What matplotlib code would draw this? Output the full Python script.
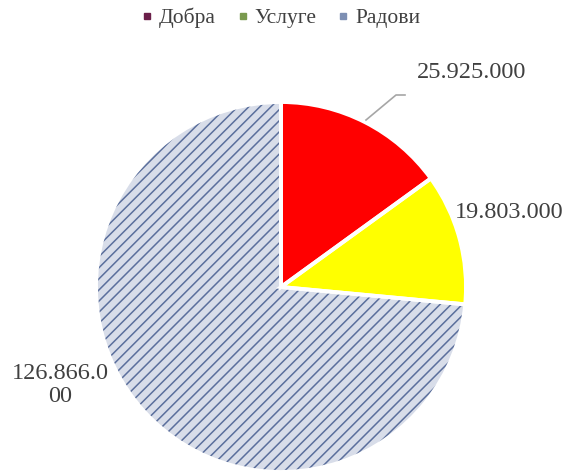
import matplotlib.pyplot as plt
from matplotlib.lines import Line2D
from matplotlib.patches import Wedge

# data
categories = ['Добра', 'Услуге', 'Радови']
values = [25925000, 19803000, 126866000]
value_labels = ['25.925.000', '19.803.000', '126.866.0\n00']
legend_colors = ['#6b1f4a', '#7a9a4f', '#7d8fb3']
slice_colors = ['#ff0000', '#ffff00', '#d8dde9']

plt.rcParams['font.family'] = ['Liberation Serif', 'DejaVu Serif']
plt.rcParams['hatch.linewidth'] = 1.1

fig = plt.figure(figsize=(5.69, 4.74), dpi=100)
ax = fig.add_axes([0, 0, 1, 1])

cx, cy, r = 281, 187, 185
wedges, _ = ax.pie(values, colors=slice_colors, startangle=90, counterclock=False,
                   center=(cx, cy), radius=r, frame=True,
                   wedgeprops=dict(linewidth=0))
ax.set_xlim(0, 569)
ax.set_ylim(0, 474)
ax.set_aspect('equal')
ax.axis('off')

# hatch on the big slice
w = wedges[2]
ax.add_patch(Wedge(w.center, w.r, w.theta1, w.theta2, facecolor='none',
                   edgecolor='#5b6f9c', hatch='///', linewidth=0))

# white borders between slices
for w in wedges:
    ax.add_patch(Wedge(w.center, w.r, w.theta1, w.theta2, facecolor='none',
                       edgecolor='white', linewidth=2.8))

# data labels
ax.plot([366, 396, 405], [474 - 120, 474 - 95, 474 - 95], color='#a6a6a6', lw=1.2)
ax.text(472, 474 - 72, value_labels[0], fontsize=17.5, color='#404040',
        ha='center', va='center')
ax.text(509, 474 - 212, value_labels[1], fontsize=17.5, color='#404040',
        ha='center', va='center')
ax.text(60, 474 - 385, value_labels[2], fontsize=17.5, color='#404040',
        ha='center', va='center', linespacing=1.1)

handles = [Line2D([], [], marker='s', linestyle='', markersize=5,
                  markerfacecolor=c, markeredgecolor=c) for c in legend_colors]
fig.legend(handles, categories, loc='center', bbox_to_anchor=(0.49, 0.962),
           ncol=3, frameon=False, fontsize=15.5, handletextpad=0.1,
           columnspacing=0.8, labelcolor='#404040', handlelength=0.9)

fig.savefig('out.png', dpi=100)
